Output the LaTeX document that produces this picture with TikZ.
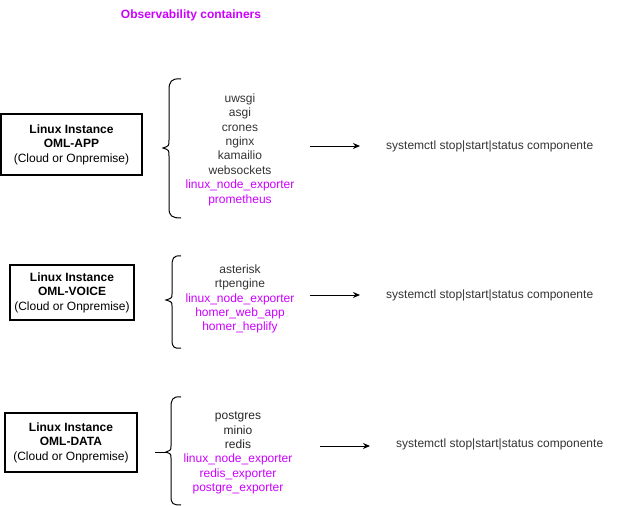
\documentclass[tikz,border=0pt]{standalone}
\usepackage{fontspec}
\setmainfont{Liberation Sans}
\usetikzlibrary{arrows.meta}
\definecolor{mag}{HTML}{CC00FF}
\definecolor{txt}{HTML}{333333}
\begin{document}
\begin{tikzpicture}[x=1pt,y=-1pt,
  inst/.style={draw=black,line width=1.3pt,inner sep=0pt,align=center,font=\fontsize{12}{14.5}\selectfont,text=black},
  lst/.style={align=center,font=\fontsize{12}{14.4}\selectfont,text=txt,inner sep=0pt},
  cmd/.style={anchor=west,font=\fontsize{12}{14.4}\selectfont,text=txt,inner sep=0pt},
  brc/.style={draw=black,line width=1pt},
  arr/.style={draw=black,line width=1pt,-{Stealth[length=7pt,width=6pt]}}]
\useasboundingbox (0,0) rectangle (630,506);
\node[font=\fontsize{12}{14}\selectfont\bfseries,text=mag,inner sep=0pt] (title) at (191,15) {Observability containers};

% boxes
\node[inst,minimum width=141pt,minimum height=61pt] (b1) at (71.5,144.5) {\textbf{Linux Instance}\\\textbf{OML-APP}\\(Cloud or Onpremise)};
\node[inst,minimum width=124pt,minimum height=55pt] (b2) at (72,292.5) {\textbf{Linux Instance}\\\textbf{OML-VOICE}\\(Cloud or Onpremise)};
\node[inst,minimum width=132pt,minimum height=59pt] (b3) at (71,442.5) {\textbf{Linux Instance}\\\textbf{OML-DATA}\\(Cloud or Onpremise)};

% lists
\node[lst] (l1) at (240,149.5) {uwsgi\\asgi\\crones\\nginx\\kamailio\\websockets\\\textcolor{mag}{linux\_node\_exporter}\\\textcolor{mag}{prometheus}};
\node[lst] (l2) at (240,299) {asterisk\\rtpengine\\\textcolor{mag}{linux\_node\_exporter}\\\textcolor{mag}{homer\_web\_app}\\\textcolor{mag}{homer\_heplify}};
\node[lst,text=black!85] (l3) at (238,453) {postgres\\minio\\redis\\\textcolor{mag}{linux\_node\_exporter}\\\textcolor{mag}{redis\_exporter}\\\textcolor{mag}{postgre\_exporter}};

% braces
\draw[brc] (181,79) .. controls (171,78) and (169,82) .. (169,90) -- (169,140)
  .. controls (169,146) .. (163,148) .. controls (169,150) .. (169,156) -- (169,208)
  .. controls (169,216) and (172,218) .. (181,218);
\draw[brc] (181,256) .. controls (173,255) and (172,259) .. (172,266) -- (172,294)
  .. controls (172,298) .. (166,300) .. controls (172,302) .. (172,306) -- (172,340)
  .. controls (172,347) and (174,349) .. (181,348);
\draw[brc] (181,397) .. controls (172,396) and (171,400) .. (171,408) -- (171,446)
  .. controls (171,450) .. (166,452) .. controls (171,454) .. (171,458) -- (171,496)
  .. controls (171,504) and (173,505) .. (181,505);
\coordinate (t3) at (155,452);
\coordinate (t3e) at (168,452);
\draw[brc] (t3) -- (t3e);

% arrows and commands
\coordinate (a1) at (310,146);
\coordinate (a2) at (310,295);
\coordinate (a3) at (320,446);
\coordinate (a3e) at (370,446);
\node[cmd] (c1) at (386,146) {systemctl stop|start|status componente};
\node[cmd] (c2) at (386,295) {systemctl stop|start|status componente};
\node[cmd] (c3) at (396,444) {systemctl stop|start|status componente};
\draw[arr] (a1) -- ([xshift=-26pt]c1.west);
\draw[arr] (a2) -- ([xshift=-26pt]c2.west);
\draw[arr] (a3) -- (a3e);
\end{tikzpicture}
\end{document}
